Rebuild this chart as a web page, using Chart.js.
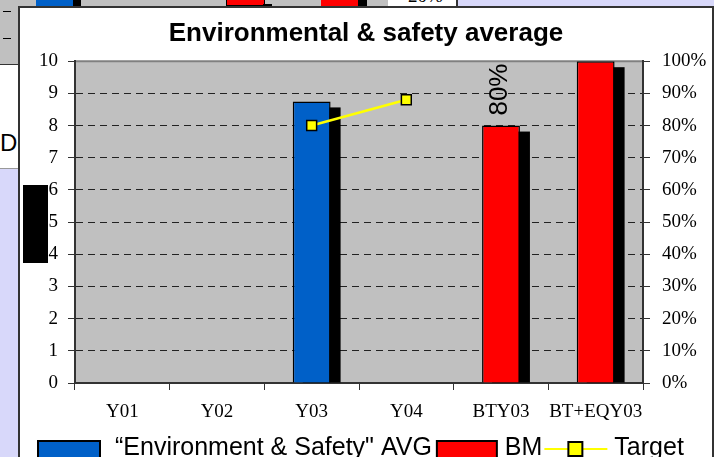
<!DOCTYPE html>
<html lang="en">
<head>
    <meta charset="UTF-8">
    <title>Environmental &amp; safety average</title>
    <style>
        body {
            margin: 0;
            width: 714px;
            height: 457px;
            overflow: hidden;
            position: relative;
            background: #d8d8fa;
            font-family: "Liberation Sans", Arial, sans-serif;
        }
        .bg { position: absolute; }
        .frame {
            position: absolute;
            left: 18px;
            top: 6px;
            width: 692px;
            height: 460px;
            border: 2px solid #333;
            background: #fff;
        }
        canvas { display: block; }
    </style>
    <script src="https://cdn.jsdelivr.net/npm/chart.js"></script>
</head>
<body>
    <!-- bits of the other charts behind this one -->
    <div class="bg" style="left:0;top:0;width:388px;height:7px;background:#c0c0c0"></div>
    <div class="bg" style="left:36px;top:0;width:37px;height:7px;background:#0060c8"></div>
    <div class="bg" style="left:73px;top:0;width:8px;height:7px;background:#000"></div>
    <div class="bg" style="left:226px;top:0;width:37px;height:5px;background:#f00;border:1px solid #000;border-top:0"></div>
    <div class="bg" style="left:263px;top:4px;width:9px;height:3px;background:#000"></div>
    <div class="bg" style="left:321px;top:0;width:37px;height:7px;background:#f00"></div>
    <div class="bg" style="left:358px;top:0;width:9px;height:7px;background:#000"></div>
    <div class="bg" style="left:388px;top:0;width:68px;height:7px;background:#fff;border-right:2px solid #333;overflow:hidden">
        <div style="position:absolute;left:20px;top:-15px;font:19px 'Liberation Serif',serif;color:#000">20%</div>
    </div>
    <div class="bg" style="left:0;top:0;width:18px;height:64px;background:#c0c0c0;border-bottom:1px solid #333"></div>
    <div class="bg" style="left:3px;top:11px;width:8px;height:1px;background:#000"></div>
    <div class="bg" style="left:3px;top:38px;width:8px;height:1px;background:#000"></div>
    <div class="bg" style="left:8px;top:65px;width:1px;height:6px;background:#000"></div>
    <div class="bg" style="left:0;top:65px;width:18px;height:103px;background:#fff;border-bottom:1px solid #999;overflow:hidden">
        <div style="position:absolute;left:0;top:64px;font:24px 'Liberation Sans',Arial,sans-serif;color:#000">De</div>
    </div>

    <div class="frame">
        <canvas id="chart" width="692" height="460"></canvas>
    </div>
    <div class="bg" style="left:23px;top:185px;width:25px;height:78px;background:#000"></div>

    <script>
        const categories = ['Y01', 'Y02', 'Y03', 'Y04', 'BTY03', 'BT+EQY03'];
        const avgValues = [null, null, 8.75, null, null, null];
        const bmValues = [null, null, null, null, 8, 10];
        const bmLabels = [null, null, null, null, '80%', null];
        const targetValues = [null, null, 80, 88, null, null];
        const leftTicks = [0, 1, 2, 3, 4, 5, 6, 7, 8, 9, 10];
        const rightTicks = [0, 10, 20, 30, 40, 50, 60, 70, 80, 90, 100];

        const serif = "'Liberation Serif', 'Times New Roman', serif";
        const sans = "'Liberation Sans', Arial, sans-serif";

        // grey plot area with a grey top edge
        const plotBg = {
            id: 'plotBg',
            beforeDraw(chart) {
                const a = chart.chartArea;
                const ctx = chart.ctx;
                ctx.save();
                ctx.fillStyle = '#c0c0c0';
                ctx.fillRect(a.left, a.top, a.right - a.left, a.bottom - a.top);
                ctx.strokeStyle = '#808080';
                ctx.lineWidth = 2;
                ctx.beginPath();
                ctx.moveTo(a.left, a.top);
                ctx.lineTo(a.right, a.top);
                ctx.stroke();
                ctx.restore();
            }
        };

        // black drop shadow behind every bar
        const barShadow = {
            id: 'barShadow',
            beforeDatasetsDraw(chart) {
                const a = chart.chartArea;
                const ctx = chart.ctx;
                ctx.save();
                ctx.beginPath();
                ctx.rect(a.left, a.top, a.right - a.left, a.bottom - a.top);
                ctx.clip();
                ctx.fillStyle = '#000';
                chart.data.datasets.forEach((ds, i) => {
                    if (ds.type !== 'bar') return;
                    chart.getDatasetMeta(i).data.forEach((el, j) => {
                        if (ds.data[j] == null) return;
                        ctx.fillRect(el.x - el.width / 2 + 10, el.y + 6, el.width, el.base - el.y - 6);
                    });
                });
                ctx.restore();
            }
        };

        // rotated value label over the BM bar
        const bmLabel = {
            id: 'bmLabel',
            afterDatasetsDraw(chart) {
                const ctx = chart.ctx;
                const meta = chart.getDatasetMeta(1);
                ctx.save();
                ctx.font = '26px ' + sans;
                ctx.fillStyle = '#000';
                ctx.textAlign = 'left';
                ctx.textBaseline = 'middle';
                meta.data.forEach((el, j) => {
                    if (!bmLabels[j]) return;
                    ctx.save();
                    ctx.translate(el.x - 1, el.y - 10);
                    ctx.rotate(-Math.PI / 2);
                    ctx.fillText(bmLabels[j], 0, 0);
                    ctx.restore();
                });
                ctx.restore();
            }
        };

        // legend along the bottom edge, Excel style
        const bottomLegend = {
            id: 'bottomLegend',
            afterDraw(chart) {
                const ctx = chart.ctx;
                const ds = chart.data.datasets;
                const top = 433;
                const base = 447;
                let x = 18;
                ctx.save();
                ctx.font = '25px ' + sans;
                ctx.textBaseline = 'alphabetic';
                ctx.lineWidth = 2;
                ctx.strokeStyle = '#000';

                [ds[0], ds[1]].forEach((d, i) => {
                    const w = i === 0 ? 62 : 60;
                    ctx.fillStyle = d.backgroundColor;
                    ctx.fillRect(x, top, w, 24);
                    ctx.strokeRect(x, top, w, 24);
                    x += w + (i === 0 ? 15 : 8);
                    ctx.fillStyle = '#000';
                    ctx.fillText(d.label, x, base);
                    x += ctx.measureText(d.label).width + (i === 0 ? 5 : 2);
                });

                const t = ds[2];
                ctx.strokeStyle = t.borderColor;
                ctx.lineWidth = 2;
                ctx.beginPath();
                ctx.moveTo(x, 441);
                ctx.lineTo(x + 63, 441);
                ctx.stroke();
                ctx.fillStyle = t.pointBackgroundColor;
                ctx.strokeStyle = '#000';
                ctx.fillRect(x + 24, 434, 14, 14);
                ctx.strokeRect(x + 24, 434, 14, 14);
                x += 70;
                ctx.fillStyle = '#000';
                ctx.fillText(t.label, x, base);
                ctx.restore();
            }
        };

        new Chart(document.getElementById('chart'), {
            data: {
                labels: categories,
                datasets: [
                    {
                        type: 'bar',
                        label: '\u201CEnvironment & Safety" AVG',
                        data: avgValues,
                        backgroundColor: '#0060c8',
                        borderColor: '#000',
                        borderWidth: 1.5,
                        grouped: false,
                        barPercentage: 0.4,
                        categoryPercentage: 1,
                        yAxisID: 'y',
                        order: 1
                    },
                    {
                        type: 'bar',
                        label: 'BM',
                        data: bmValues,
                        backgroundColor: '#ff0000',
                        borderColor: '#000',
                        borderWidth: 1.5,
                        grouped: false,
                        barPercentage: 0.4,
                        categoryPercentage: 1,
                        yAxisID: 'y',
                        order: 1
                    },
                    {
                        type: 'line',
                        label: 'Target',
                        data: targetValues,
                        borderColor: '#ffff00',
                        borderWidth: 2.5,
                        pointStyle: 'rect',
                        pointRadius: 7,
                        pointBackgroundColor: '#ffff00',
                        pointBorderColor: '#000',
                        pointBorderWidth: 1.5,
                        spanGaps: false,
                        yAxisID: 'y2',
                        order: 0
                    }
                ]
            },
            options: {
                responsive: false,
                animation: false,
                layout: { padding: { left: 0, right: 0, top: 0, bottom: 45 } },
                plugins: {
                    legend: { display: false },
                    tooltip: { enabled: false },
                    title: {
                        display: true,
                        text: 'Environmental & safety average',
                        color: '#000',
                        font: { family: sans, size: 26, weight: 'bold' },
                        padding: { top: 10, bottom: 12 }
                    }
                },
                scales: {
                    x: {
                        offset: true,
                        grid: {
                            offset: true,
                            drawOnChartArea: false,
                            drawTicks: true,
                            tickLength: 7,
                            color: '#333'
                        },
                        border: { color: '#333', width: 2 },
                        ticks: {
                            color: '#000',
                            font: { family: serif, size: 19 },
                            padding: 11,
                            maxRotation: 0,
                            autoSkip: false
                        },
                        afterFit(axis) { axis.height = 40; }
                    },
                    y: {
                        position: 'left',
                        min: 0,
                        max: 10,
                        afterBuildTicks(axis) { axis.ticks = leftTicks.map(v => ({ value: v })); },
                        grid: {
                            color: ctx => ctx.tick && ctx.tick.value === 10 ? 'rgba(0,0,0,0)' : '#222',
                            tickColor: '#333',
                            lineWidth: 1,
                            tickLength: 7
                        },
                        border: { color: '#333', width: 2, dash: [7, 5] },
                        ticks: {
                            color: '#000',
                            font: { family: serif, size: 19 },
                            padding: 10
                        },
                        afterFit(axis) { axis.width = 55; }
                    },
                    y2: {
                        position: 'right',
                        min: 0,
                        max: 100,
                        afterBuildTicks(axis) { axis.ticks = rightTicks.map(v => ({ value: v })); },
                        grid: {
                            drawOnChartArea: false,
                            color: '#333',
                            tickLength: 7
                        },
                        border: { color: '#333', width: 2 },
                        ticks: {
                            color: '#000',
                            font: { family: serif, size: 19 },
                            padding: 12,
                            callback: v => v + '%'
                        },
                        afterFit(axis) { axis.width = 69; }
                    }
                }
            },
            plugins: [plotBg, barShadow, bmLabel, bottomLegend]
        });
    </script>
</body>
</html>
